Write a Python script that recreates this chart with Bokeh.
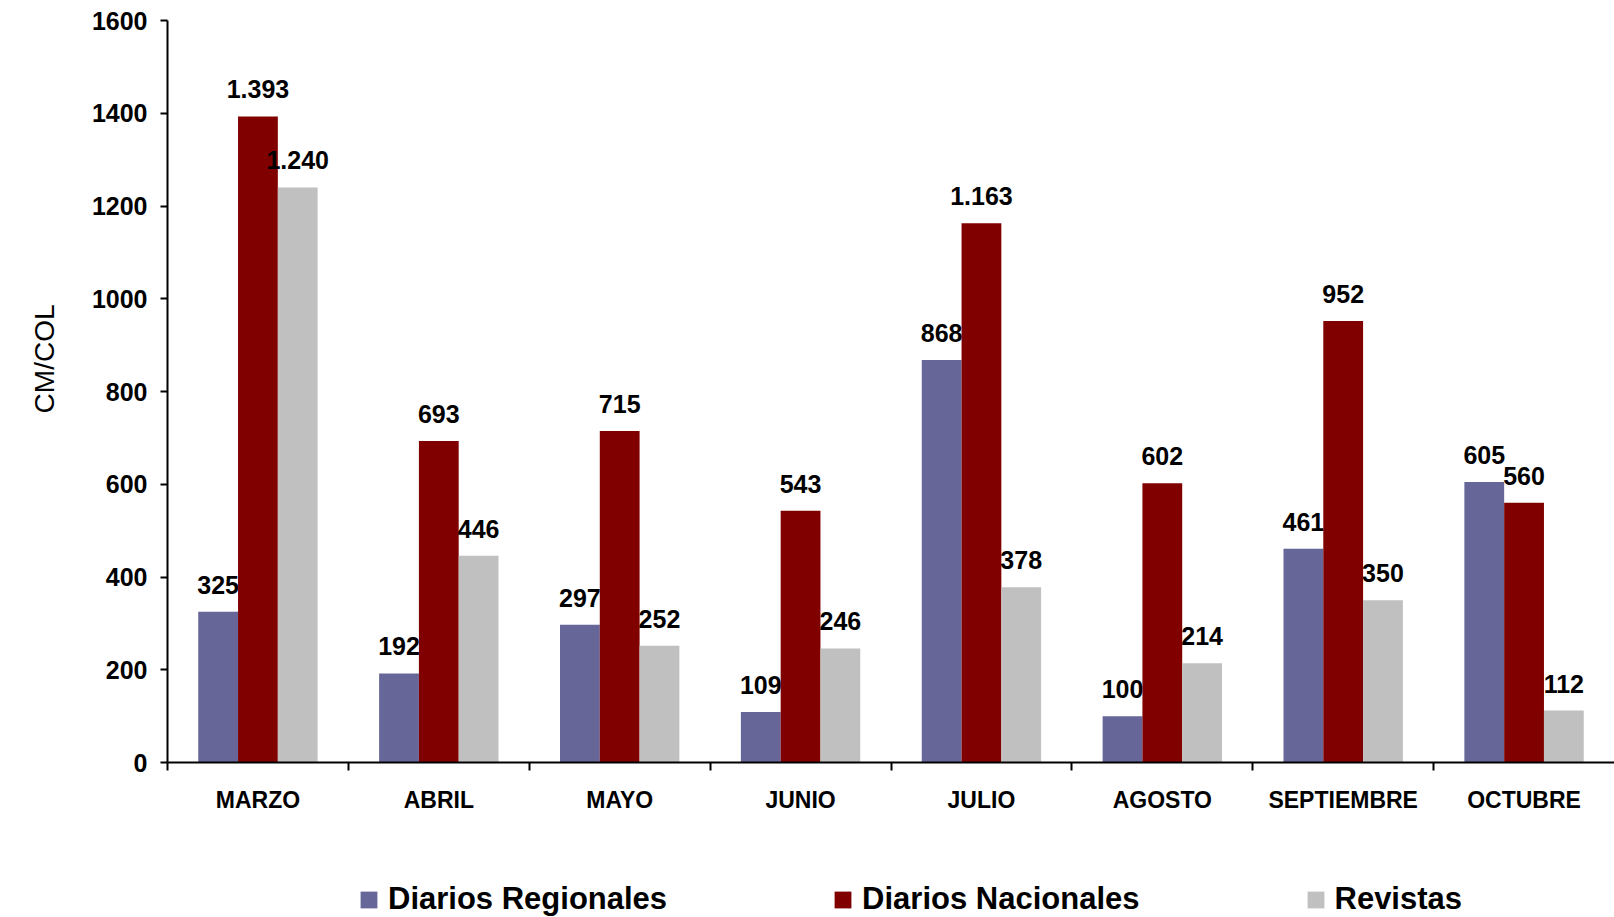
from bokeh.plotting import figure
from bokeh.layouts import column
from bokeh.models import (Range1d, FixedTicker, Legend, LegendItem, ColumnDataSource, Title)
from bokeh.transform import dodge
from bokeh.core.properties import value
from bokeh.embed import file_html
from bokeh.resources import INLINE

months = ["MARZO", "ABRIL", "MAYO", "JUNIO", "JULIO", "AGOSTO", "SEPTIEMBRE", "OCTUBRE"]
regionales = [325, 192, 297, 109, 868, 100, 461, 605]
nacionales = [1393, 693, 715, 543, 1163, 602, 952, 560]
revistas = [1240, 446, 252, 246, 378, 214, 350, 112]
series_names = ["Diarios Regionales", "Diarios Nacionales", "Revistas"]
colors = ["#666699", "#800000", "#C0C0C0"]
y_ticks = [0, 200, 400, 600, 800, 1000, 1200, 1400, 1600]

FONT = "Liberation Sans"

def fmt(v):
    return f"{v:,}".replace(",", ".")

idx = list(range(len(months)))
src = ColumnDataSource(dict(
    x=idx,
    reg=regionales, nac=nacionales, rev=revistas,
    reg_l=[fmt(v) for v in regionales],
    nac_l=[fmt(v) for v in nacionales],
    rev_l=[fmt(v) for v in revistas],
))
cols = ["reg", "nac", "rev"]

p = figure(width=1614, height=830, output_backend="svg", toolbar_location=None,
           x_range=Range1d(-0.5, 7.5), y_range=Range1d(0, 1600),
           min_border_left=167, min_border_right=0, min_border_top=20, min_border_bottom=68)
p.outline_line_color = None
p.grid.visible = False
p.background_fill_color = "white"

bw = 0.22
for col, off, c in zip(cols, [-bw, 0, bw], colors):
    p.vbar(x=dodge("x", off, range=p.x_range), top=col, width=bw, bottom=0,
           source=src, fill_color=c, line_color=None)
    p.text(x=dodge("x", off, range=p.x_range), y=col, text=col + "_l", source=src,
           text_font=value(FONT), text_font_style="bold", text_font_size="25px",
           text_align="center", text_baseline="alphabetic", y_offset=-27, text_color="black")

# x axis
xa = p.xaxis[0]
xa.ticker = FixedTicker(ticks=idx, minor_ticks=[i - 0.5 for i in idx])
xa.major_label_overrides = {i: m for i, m in zip(idx, months)}
xa.major_tick_in = 0
xa.major_tick_out = 0
xa.minor_tick_in = 0
xa.minor_tick_out = 8
xa.minor_tick_line_width = 2
xa.minor_tick_line_color = "black"
xa.axis_line_width = 2
xa.axis_line_color = "black"
xa.major_label_text_font = FONT
xa.major_label_text_font_style = "bold"
xa.major_label_text_font_size = "23px"
xa.major_label_text_color = "black"
xa.major_label_standoff = 16

# y axis
ya = p.yaxis[0]
ya.ticker = FixedTicker(ticks=y_ticks, minor_ticks=[])
ya.major_tick_in = 0
ya.major_tick_out = 7
ya.major_tick_line_width = 2
ya.major_tick_line_color = "black"
ya.axis_line_width = 2
ya.axis_line_color = "black"
ya.major_label_text_font = FONT
ya.major_label_text_font_style = "bold"
ya.major_label_text_font_size = "25px"
ya.major_label_text_color = "black"
ya.major_label_standoff = 13
ya.minor_tick_line_color = None

ytitle = Title(text="CM/COL", align="right", vertical_align="top", offset=284, standoff=54,
               text_font=FONT, text_font_style="normal", text_font_size="28px",
               text_color="black")
p.add_layout(ytitle, "left")

# legend strip below the chart (frames are aligned with the chart above)
lg = figure(width=1614, height=87, output_backend="svg", toolbar_location=None,
            x_range=Range1d(100, 101), y_range=Range1d(0, 1),
            x_axis_location=None, y_axis_location=None, min_border=0)
lg.outline_line_color = None
lg.grid.visible = False
items = []
for name, col, c in zip(series_names, cols, colors):
    r = lg.vbar(x="x", top=col, width=bw, source=src, fill_color=c, line_color=None,
                visible=False)
    items.append(LegendItem(label=name, renderers=[r]))
legend = Legend(items=items, location=(191, 0), orientation="horizontal", spacing=165,
                glyph_width=21, glyph_height=21, label_standoff=9, padding=0, margin=0,
                border_line_color=None, background_fill_alpha=0, inactive_fill_alpha=0,
                label_text_font=FONT, label_text_font_style="bold", label_text_font_size="31px",
                label_text_color="black")
lg.add_layout(legend, "center")

layout = column(p, lg, spacing=0)
open("out.html", "w").write(file_html(layout, INLINE))
